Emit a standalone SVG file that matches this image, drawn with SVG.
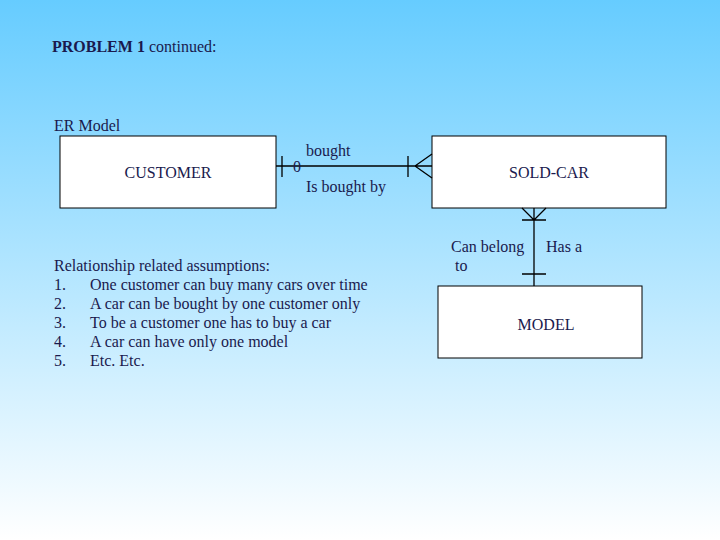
<svg xmlns="http://www.w3.org/2000/svg" width="720" height="540" viewBox="0 0 720 540">
<defs><linearGradient id="bg" x1="0" y1="0" x2="0" y2="1"><stop offset="0" stop-color="#66ccff"/><stop offset="1" stop-color="#ffffff"/></linearGradient>
<style>text{font-family:"Liberation Serif",serif;font-size:16px;fill:#1a1a4e}.b{fill:#fff;stroke:#000;stroke-width:1}.l{stroke:#000;stroke-width:1.3;fill:none}</style></defs>
<rect width="720" height="540" fill="url(#bg)"/>
<text x="52" y="52" font-size="15"><tspan font-weight="bold">PROBLEM 1</tspan> continued:</text>
<text x="54" y="131">ER Model</text>
<g id="customer"><rect class="b" x="60" y="136" width="216" height="72"/><text x="168" y="178" text-anchor="middle">CUSTOMER</text></g>
<g id="soldcar"><rect class="b" x="432" y="136" width="234" height="72"/><text x="549" y="178" text-anchor="middle">SOLD-CAR</text></g>
<g id="model"><rect class="b" x="438" y="286" width="204" height="72"/><text x="546" y="330" text-anchor="middle">MODEL</text></g>
<g id="connectors">
<path class="l" d="M276 166H432M282 156V177M408 156V177M415 166L432 154M415 166L432 178"/>
<text x="293" y="172" font-size="18">0</text>
<text x="306" y="156">bought</text>
<text x="306" y="192">Is bought by</text>
<path class="l" d="M534 208V286M534 220L522 208M534 220L546 208M522 220H546M522 274H546"/>
<text x="451" y="252">Can belong</text><text x="455" y="271">to</text>
<text x="546" y="252">Has a</text>
</g>
<text x="54" y="271">Relationship related assumptions:</text>
<text x="54" y="290">1.</text><text x="90" y="290">One customer can buy many cars over time</text>
<text x="54" y="309">2.</text><text x="90" y="309">A car can be bought by one customer only</text>
<text x="54" y="328">3.</text><text x="90" y="328">To be a customer one has to buy a car</text>
<text x="54" y="347">4.</text><text x="90" y="347">A car can have only one model</text>
<text x="54" y="366">5.</text><text x="90" y="366">Etc. Etc.</text>
</svg>
